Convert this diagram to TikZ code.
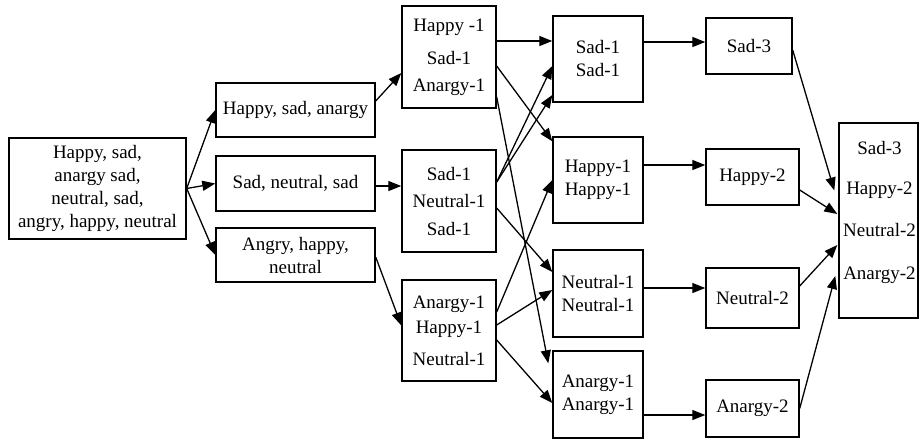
\documentclass[tikz,border=0pt]{standalone}
\usepackage{fontspec}
\setmainfont{Liberation Serif}
\usetikzlibrary{arrows.meta}
\begin{document}
\begin{tikzpicture}[x=1pt,y=-1pt,
  box/.style={draw, line width=1.4pt, inner sep=0pt, align=center, font=\fontsize{19}{23}\selectfont},
  lbl/.style={inner sep=0pt, align=center, font=\fontsize{19}{23}\selectfont},
  arr/.style={line width=1.3pt, -{Triangle[length=13pt,width=10pt]}}]
\useasboundingbox (0,0) rectangle (919,439);
% column A
\node[box, minimum width=177pt, minimum height=101pt] (A) at (97.5,188.5)
  {Happy, sad,\\anargy sad,\\neutral, sad,\\angry, happy, neutral};
% column B
\node[box, minimum width=159pt, minimum height=54pt] (B1) at (295.5,110) {Happy, sad, anargy};
\node[box, minimum width=159pt, minimum height=55pt] (B2) at (295.5,183.5) {Sad, neutral, sad};
\node[box, minimum width=159pt, minimum height=54pt] (B3) at (295.5,255) {Angry, happy,\\neutral};
% column C
\node[box, minimum width=94pt, minimum height=102pt] (C1) at (449,57) {Happy -1\\[10pt]Sad-1\\[4pt]Anargy-1};
\node[box, minimum width=94pt, minimum height=102pt] (C2) at (449,201) {Sad-1\\[4pt]Neutral-1\\[5pt]Sad-1};
\node[box, minimum width=94pt, minimum height=101pt] (C3) at (449,330.5) {Anargy-1\\[2pt]Happy-1\\[9pt]Neutral-1};
% column D
\node[box, minimum width=90pt, minimum height=86pt] (D1) at (598,59) {Sad-1\\Sad-1};
\node[box, minimum width=90pt, minimum height=86pt] (D2) at (598,180) {Happy-1\\Happy-1};
\node[box, minimum width=90pt, minimum height=87pt] (D3) at (598,293.5) {Neutral-1\\Neutral-1};
\node[box, minimum width=90pt, minimum height=87pt] (D4) at (598,394.5) {Anargy-1\\Anargy-1};
% column E
\node[box, minimum width=86pt, minimum height=56pt] (E1) at (749,46) {Sad-3};
\node[box, minimum width=93pt, minimum height=56pt] (E2) at (752.5,177) {Happy-2};
\node[box, minimum width=93pt, minimum height=60pt] (E3) at (752.5,298) {Neutral-2};
\node[box, minimum width=93pt, minimum height=57pt] (E4) at (752.5,408.5) {Anargy-2};
% column F
\node[box, minimum width=79pt, minimum height=195pt] (F) at (878.5,220.5) {};
\node[lbl] (Ft) at (879.5,212.5) {Sad-3\\[17pt]Happy-2\\[19pt]Neutral-2\\[20pt]Anargy-2};
% A -> B
\draw[arr] (A.east) -- (B1.west);
\draw[arr] (A.east) -- (B2.west);
\draw[arr] (A.east) -- (B3.west);
% B -> C
\draw[arr] ([yshift=9pt]B1.east) -- ([yshift=-16pt]C1.west);
\draw[arr] ([yshift=-2.5pt]B2.east) -- ([yshift=-2.5pt]B2.east -| C2.west);
\draw[arr] ([yshift=-2pt]B3.east) -- ([yshift=5pt]C3.west);
% C -> D
\draw[arr] ([yshift=16pt]C1.east) -- ([yshift=16pt]C1.east -| D1.west);
\draw[arr] ([yshift=-9pt]C1.east) -- ([yshift=-5pt]D2.north west);
\draw[arr] ([yshift=-40pt]C1.east) -- ([xshift=-4pt,yshift=-13pt]D4.north west);
\draw[arr] ([yshift=19pt]C2.east) -- ([yshift=-7pt]D1.west);
\draw[arr] ([yshift=19pt]C2.east) -- ([yshift=-36pt]D1.west);
\draw[arr] ([yshift=-7pt]C2.east) -- ([yshift=21.5pt]D3.west);
\draw[arr] ([yshift=18.5pt]C3.east) -- (D2.west);
\draw[arr] ([yshift=5.5pt]C3.east) -- ([yshift=3.5pt]D3.west);
\draw[arr] ([yshift=-9.5pt]C3.east) -- ([yshift=-8.5pt]D4.west);
% D -> E
\draw[arr] ([yshift=17pt]D1.east) -- ([yshift=17pt]D1.east -| E1.west);
\draw[arr] ([yshift=15pt]D2.east) -- ([yshift=15pt]D2.east -| E2.west);
\draw[arr] ([yshift=5.5pt]D3.east) -- ([yshift=5.5pt]D3.east -| E3.west);
\draw[arr] ([yshift=-20.5pt]D4.east) -- ([yshift=-20.5pt]D4.east -| E4.west);
% E -> F
\draw[arr] ([yshift=-4pt]E1.east) -- ([xshift=-4pt,yshift=30pt]F.west);
\draw[arr] ([yshift=-13pt]E2.east) -- ([xshift=-1pt,yshift=6.5pt]F.west);
\draw[arr] ([yshift=12pt]E3.east) -- ([xshift=-1pt,yshift=-24.5pt]F.west);
\draw[arr] (E4.east) -- ([xshift=-3pt,yshift=-55.5pt]F.west);
\end{tikzpicture}
\end{document}
